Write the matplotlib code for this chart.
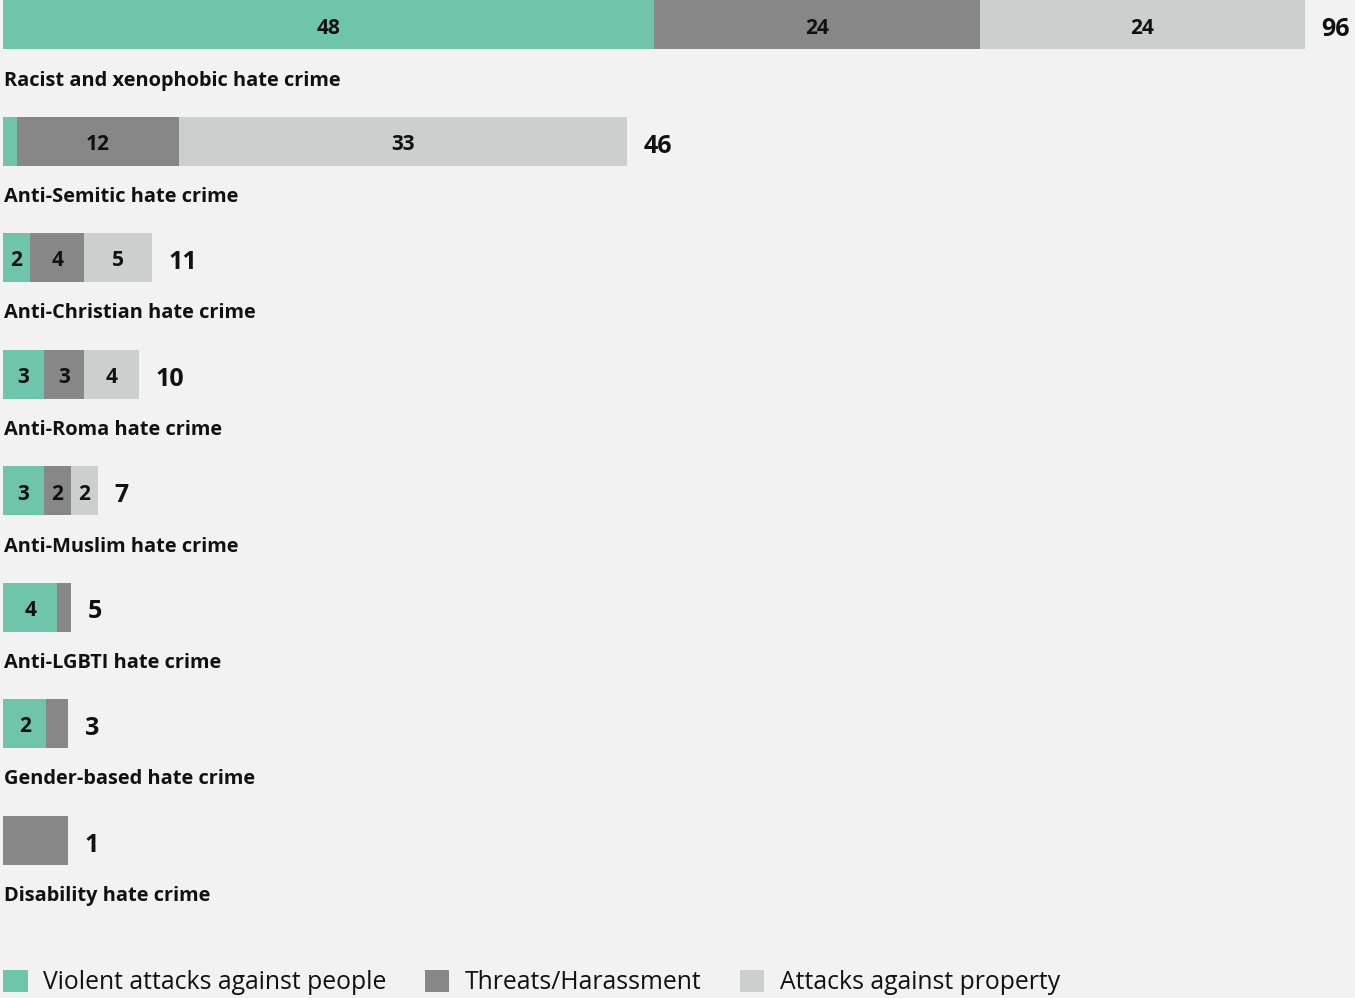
import numpy as np
import matplotlib
matplotlib.use("Agg")
import matplotlib.pyplot as plt
from matplotlib import font_manager as fm

categories = ["Racist and xenophobic hate crime", "Anti-Semitic hate crime",
              "Anti-Christian hate crime", "Anti-Roma hate crime",
              "Anti-Muslim hate crime", "Anti-LGBTI hate crime",
              "Gender-based hate crime", "Disability hate crime"]
violent = [48, 1, 2, 3, 3, 4, 2, 0]
threats = [24, 12, 4, 3, 2, 1, 1, 1]
property_attacks = [24, 33, 5, 4, 2, 0, 0, 0]
series_names = ["Violent attacks against people", "Threats/Harassment", "Attacks against property"]

colors = ["#6fc5ab", "#878787", "#cbcfcd"]
BG = "#f2f2f2"

names = {f.name for f in fm.fontManager.ttflist}
FONT = next(n for n in ["Open Sans", "Noto Sans", "DejaVu Sans"] if n in names)
plt.rcParams["font.family"] = [FONT, "DejaVu Sans"]

W, H = 1355, 998
fig = plt.figure(figsize=(W / 100, H / 100), dpi=100, facecolor=BG)
ax = fig.add_axes([0, 0, 1, 1], facecolor=BG)
ax.set_axis_off()

pxu = 1302 / 96.0  # pixels per unit
ax.set_xlim(-3 / pxu, (W - 3) / pxu)
ax.set_ylim(H, 0)

series = [np.array(violent, float), np.array(threats, float), np.array(property_attacks, float)]
totals = series[0] + series[1] + series[2]
min_width = 4.8
scale = np.maximum(1.0, min_width / totals)

ycent = 24.5 + 116.5 * np.arange(len(categories))
bar_h = 49

left = np.zeros(len(categories))
containers = []
for vals, col, name in zip(series, colors, series_names):
    widths = vals * scale
    bc = ax.barh(ycent, widths, left=left, height=bar_h, color=col, label=name, linewidth=0)
    containers.append(bc)
    for i, (v, w, l) in enumerate(zip(vals, widths, left)):
        if v > 1:
            ax.text(l + w / 2, ycent[i] + 3.5, f"{int(v)}", ha="center", va="center",
                    fontsize=15, fontweight="bold", color="#111111")
    left = left + widths

for i, (cat, tot) in enumerate(zip(categories, totals)):
    ax.annotate(f"{int(tot)}", xy=(left[i], ycent[i] + 5), xytext=(12, 0),
                textcoords="offset points", ha="left", va="center",
                fontsize=18, fontweight="bold", color="#111111")
    ax.text(0.05, ycent[i] + 56, cat, ha="left", va="center",
            fontsize=14.4, fontweight="bold", color="#111111")

fig.legend(handles=containers, labels=series_names, loc="lower left",
           bbox_to_anchor=(-0.0015, -0.002), ncol=3, frameon=False, fontsize=17.8,
           handlelength=1.0, handleheight=1.0, handletextpad=0.62,
           columnspacing=1.55, borderpad=0.1, borderaxespad=0.1,
           labelcolor="#111111")

fig.savefig("out.png", dpi=100, facecolor=BG)
